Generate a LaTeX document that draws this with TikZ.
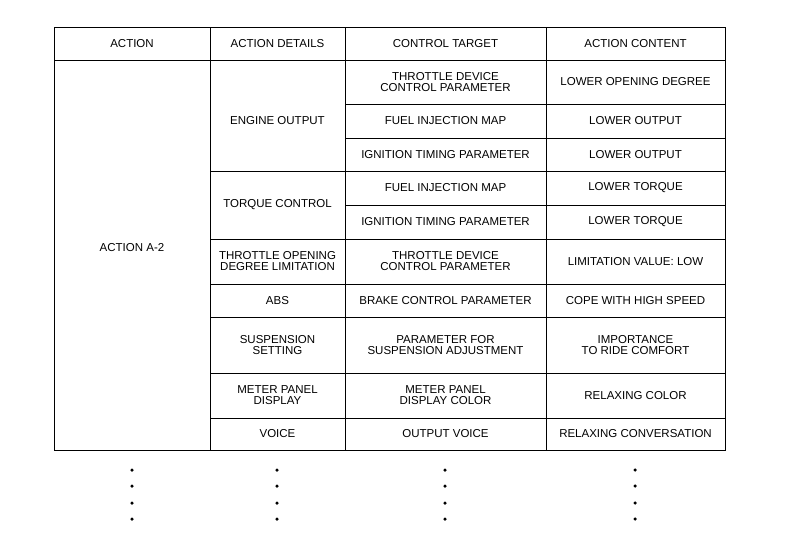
\documentclass[tikz,border=0pt]{standalone}
\usepackage{fontspec}
\setmainfont{Liberation Sans}
\begin{document}
\begin{tikzpicture}[x=1pt,y=-1pt,
  cell/.style={align=center,font=\fontsize{11.5}{11}\selectfont,inner sep=0pt},
  dot/.style={circle,fill=black,inner sep=0pt,minimum size=3.5pt},
  grid/.style={line width=0.9pt}]
\useasboundingbox (0,0) rectangle (800,533);
% outer frame and column lines
\draw[grid] (54,27) rectangle (725,450);
\draw[grid] (54,60) -- (725,60);
\foreach \x in {210,345,546} \draw[grid] (\x,27) -- (\x,450);
% full-width row lines for columns 2-4
\foreach \y in {171,239,284,317,373,418} \draw[grid] (210,\y) -- (725,\y);
% inner row lines for columns 3-4
\foreach \y in {104,138,205} \draw[grid] (345,\y) -- (725,\y);
% header
\node[cell] (h1) at (132,44) {ACTION};
\node[cell] (h2) at (277.5,44) {ACTION DETAILS};
\node[cell] (h3) at (445.5,44) {CONTROL TARGET};
\node[cell] (h4) at (635.5,44) {ACTION CONTENT};
\node[cell] (a) at (132,248) {ACTION A-2};
% column 2
\node[cell] (d1) at (277.5,121) {ENGINE OUTPUT};
\node[cell] (d2) at (277.5,205) {TORQUE CONTROL};
\node[cell] (d3) at (277.5,261.5) {THROTTLE OPENING\\DEGREE LIMITATION};
\node[cell] (d4) at (277.5,300.5) {ABS};
\node[cell] (d5) at (277.5,345) {SUSPENSION\\SETTING};
\node[cell] (d6) at (277.5,395.5) {METER PANEL\\DISPLAY};
\node[cell] (d7) at (277.5,434) {VOICE};
% column 3
\node[cell] (c1) at (445.5,82) {THROTTLE DEVICE\\CONTROL PARAMETER};
\node[cell] (c2) at (445.5,121) {FUEL INJECTION MAP};
\node[cell] (c3) at (445.5,154.5) {IGNITION TIMING PARAMETER};
\node[cell] (c4) at (445.5,188) {FUEL INJECTION MAP};
\node[cell] (c5) at (445.5,222) {IGNITION TIMING PARAMETER};
\node[cell] (c6) at (445.5,261.5) {THROTTLE DEVICE\\CONTROL PARAMETER};
\node[cell] (c7) at (445.5,300.5) {BRAKE CONTROL PARAMETER};
\node[cell] (c8) at (445.5,345) {PARAMETER FOR\\SUSPENSION ADJUSTMENT};
\node[cell] (c9) at (445.5,395.5) {METER PANEL\\DISPLAY COLOR};
\node[cell] (c10) at (445.5,434) {OUTPUT VOICE};
% column 4
\node[cell] (e1) at (635.5,82) {LOWER OPENING DEGREE};
\node[cell] (e2) at (635.5,121) {LOWER OUTPUT};
\node[cell] (e3) at (635.5,154.5) {LOWER OUTPUT};
\node[cell] (e4) at (635.5,188) {LOWER TORQUE};
\node[cell] (e5) at (635.5,222) {LOWER TORQUE};
\node[cell] (e6) at (635.5,261.5) {LIMITATION VALUE: LOW};
\node[cell] (e7) at (635.5,300.5) {COPE WITH HIGH SPEED};
\node[cell] (e8) at (635.5,345) {IMPORTANCE\\TO RIDE COMFORT};
\node[cell] (e9) at (635.5,395.5) {RELAXING COLOR};
\node[cell] (e10) at (635.5,434) {RELAXING CONVERSATION};
% dots
\foreach \x/\n in {132/a,277/b,445/c,635/d}
  \foreach \y/\m in {470/1,486/2,503/3,519/4}
    \node[dot] (dot\n\m) at (\x,\y) {};
\end{tikzpicture}
\end{document}
